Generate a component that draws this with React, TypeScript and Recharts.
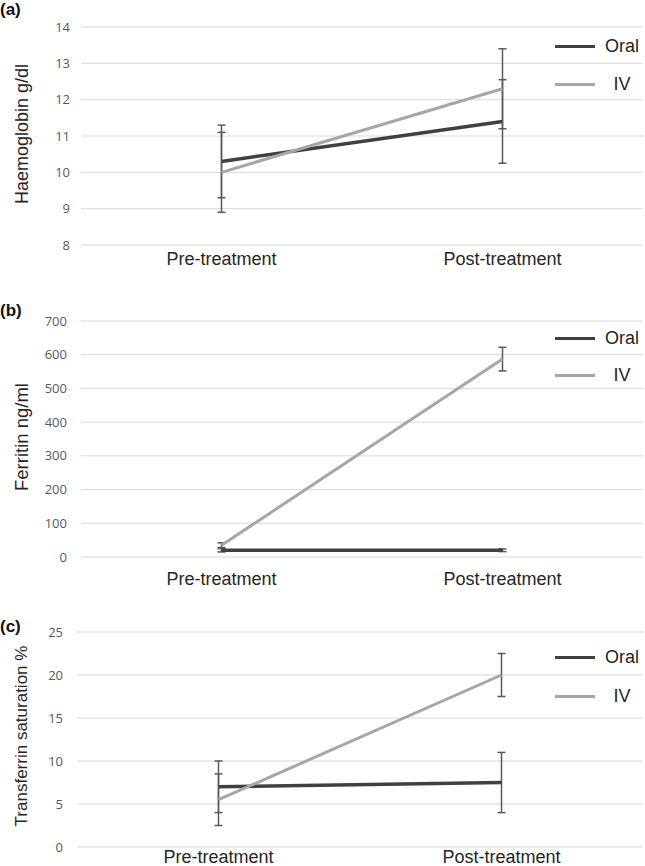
import React from 'react';
import { LineChart, Line, XAxis, YAxis, CartesianGrid, ErrorBar, Legend } from 'recharts';

// ---- data ----
const CATEGORIES = ['Pre-treatment', 'Post-treatment'];
const SERIES_ORDER = ['Oral', 'IV'];

// (a) Haemoglobin g/dl
const HB_ORAL = [10.3, 11.4];
const HB_ORAL_ERR = [1.0, 1.15];
const HB_IV = [10.0, 12.3];
const HB_IV_ERR = [1.1, 1.1];
const HB_TICKS = [8, 9, 10, 11, 12, 13, 14];

// (b) Ferritin ng/ml
const FER_ORAL = [20, 20];
const FER_ORAL_ERR = [5, 4];
const FER_IV = [35, 587];
const FER_IV_ERR = [7, 35];
const FER_TICKS = [0, 100, 200, 300, 400, 500, 600, 700];

// (c) Transferrin saturation %
const TS_ORAL = [7, 7.5];
const TS_ORAL_ERR = [3, 3.5];
const TS_IV = [5.5, 20];
const TS_IV_ERR = [3, 2.5];
const TS_TICKS = [0, 5, 10, 15, 20, 25];

const ORAL_COLOR = '#404040';
const IV_COLOR = '#a6a6a6';
const ERR_COLOR = '#595959';
const SANS = '"Liberation Sans", Arial, sans-serif';

const buildRows = (oral: number[], oralErr: number[], iv: number[], ivErr: number[]) =>
  CATEGORIES.map((name, i) => ({
    name,
    oral: oral[i],
    oralErr: oralErr[i],
    iv: iv[i],
    ivErr: ivErr[i],
  }));

const LegendBox = ({ payload, gap }: any) => {
  const items = [...(payload || [])].sort(
    (a: any, b: any) => SERIES_ORDER.indexOf(a.value) - SERIES_ORDER.indexOf(b.value)
  );
  return (
    <div style={{ position: 'relative', width: 90, height: gap + 20 }}>
      {items.map((entry: any, i: number) => (
        <div key={entry.value} style={{ position: 'absolute', left: 0, top: i * gap, width: 90, height: 20 }}>
          <div style={{ position: 'absolute', left: 0, top: 8.5, width: 40, height: 3, background: entry.color }} />
          <span
            style={{
              position: 'absolute',
              left: 67,
              top: 0,
              transform: 'translateX(-50%)',
              fontFamily: SANS,
              fontSize: 18,
              lineHeight: '20px',
              color: '#1f1f1f',
              whiteSpace: 'nowrap',
            }}
          >
            {entry.value}
          </span>
        </div>
      ))}
    </div>
  );
};

interface PanelProps {
  top: number;
  height: number;
  letter: string;
  letterY: number;
  yLabel: string;
  yLabelY: number;
  yLabelSize: number;
  rows: any[];
  ticks: number[];
  plotTop: number;
  plotBottom: number;
  plotLeft: number;
  tickGap: number;
  xTickMargin: number;
  legendY: number;
  legendGap: number;
}

function Panel(p: PanelProps) {
  return (
    <div style={{ position: 'absolute', left: 0, top: p.top, width: 645, height: p.height }}>
      <LineChart
        width={645}
        height={p.height}
        data={p.rows}
        margin={{ top: p.plotTop, right: 2, bottom: 0, left: 0 }}
      >
        <CartesianGrid vertical={false} stroke="#d9d9d9" strokeWidth={1} />
        <XAxis
          dataKey="name"
          scale="band"
          interval={0}
          axisLine={false}
          tickLine={false}
          tickSize={0}
          tickMargin={p.xTickMargin}
          height={p.height - p.plotBottom}
          tick={{ fontSize: 18, fill: '#262626', fontFamily: SANS }}
        />
        <YAxis
          width={p.plotLeft}
          type="number"
          domain={[p.ticks[0], p.ticks[p.ticks.length - 1]]}
          ticks={p.ticks}
          interval={0}
          axisLine={false}
          tickLine={false}
          tickSize={0}
          tickMargin={p.tickGap}
          tick={{ fontSize: 13, fill: '#595959', fontFamily: '"Open Sans", sans-serif' }}
        />
        <Legend
          layout="horizontal"
          verticalAlign="middle"
          align="center"
          wrapperStyle={{ position: 'absolute', left: 555, top: p.legendY - 10, width: 90 }}
          content={(props: any) => <LegendBox payload={props.payload} gap={p.legendGap} />}
        />
        <Line
          dataKey="oral"
          name="Oral"
          stroke={ORAL_COLOR}
          strokeWidth={3.5}
          dot={false}
          activeDot={false}
          isAnimationActive={false}
        >
          <ErrorBar dataKey="oralErr" direction="y" width={4} stroke={ERR_COLOR} strokeWidth={1.5} isAnimationActive={false} />
        </Line>
        <Line
          dataKey="iv"
          name="IV"
          stroke={IV_COLOR}
          strokeWidth={3}
          dot={false}
          activeDot={false}
          isAnimationActive={false}
        >
          <ErrorBar dataKey="ivErr" direction="y" width={4} stroke={ERR_COLOR} strokeWidth={1.5} isAnimationActive={false} />
        </Line>
      </LineChart>
      <div
        style={{
          position: 'absolute',
          left: 0,
          top: p.letterY - 10,
          fontFamily: SANS,
          fontWeight: 'bold',
          fontSize: 17,
          lineHeight: '20px',
          color: '#111',
        }}
      >
        {p.letter}
      </div>
      <div
        style={{
          position: 'absolute',
          left: 22,
          top: p.yLabelY,
          transform: 'translate(-50%, -50%) rotate(-90deg)',
          fontFamily: SANS,
          fontSize: p.yLabelSize,
          lineHeight: '20px',
          color: '#262626',
          whiteSpace: 'nowrap',
        }}
      >
        {p.yLabel}
      </div>
    </div>
  );
}

export default function App() {
  const hbRows = buildRows(HB_ORAL, HB_ORAL_ERR, HB_IV, HB_IV_ERR);
  const ferRows = buildRows(FER_ORAL, FER_ORAL_ERR, FER_IV, FER_IV_ERR);
  const tsRows = buildRows(TS_ORAL, TS_ORAL_ERR, TS_IV, TS_IV_ERR);

  return (
    <div style={{ position: 'absolute', left: 0, top: 0, width: 645, height: 866, background: '#fff', overflow: 'hidden' }}>
      <Panel
        top={0}
        height={290}
        letter="(a)"
        letterY={10}
        yLabel="Haemoglobin g/dl"
        yLabelY={134}
        yLabelSize={18}
        rows={hbRows}
        ticks={HB_TICKS}
        plotTop={27}
        plotBottom={245}
        plotLeft={81}
        tickGap={11}
        xTickMargin={7}
        legendY={46}
        legendGap={38}
      />
      <Panel
        top={290}
        height={300}
        letter="(b)"
        letterY={21}
        yLabel="Ferritin ng/ml"
        yLabelY={147}
        yLabelSize={18.5}
        rows={ferRows}
        ticks={FER_TICKS}
        plotTop={31}
        plotBottom={267}
        plotLeft={81}
        tickGap={14}
        xTickMargin={15}
        legendY={48}
        legendGap={37}
      />
      <Panel
        top={580}
        height={286}
        letter="(c)"
        letterY={47}
        yLabel="Transferrin saturation %"
        yLabelY={156}
        yLabelSize={17}
        rows={tsRows}
        ticks={TS_TICKS}
        plotTop={52}
        plotBottom={267}
        plotLeft={77}
        tickGap={14}
        xTickMargin={3}
        legendY={77}
        legendGap={39}
      />
    </div>
  );
}
